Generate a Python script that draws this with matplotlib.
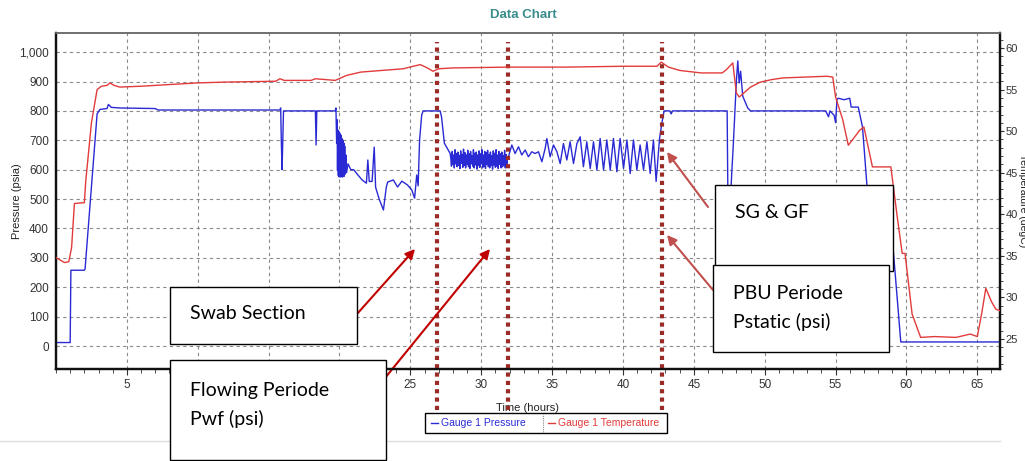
import matplotlib
matplotlib.use("Agg")
import matplotlib.pyplot as plt
from matplotlib.patches import Rectangle
from matplotlib.lines import Line2D
from matplotlib.ticker import MultipleLocator, FuncFormatter

# ---- data ----
# Gauge 1 pressure (psia) vs time (hours): build-up, swab and first flow
p_time_a = [0.0, 1.0, 1.05, 2.0, 2.05, 2.9, 3.1, 3.6, 3.7, 3.9, 4.5, 7.0, 7.2, 15.8,
            15.85, 15.9, 15.95, 16.0, 16.05, 18.3, 18.35, 18.4, 19.7, 19.75,
            19.8, 19.83, 19.86, 19.89, 19.92, 19.95, 19.98, 20.01, 20.04, 20.07,
            20.1, 20.13, 20.16, 20.19, 20.22, 20.25, 20.28, 20.31, 20.34, 20.37,
            20.4, 20.45, 20.5, 20.6,
            20.8, 21.0, 21.3, 21.6, 21.9, 22.0, 22.1, 22.3, 22.45, 22.55, 22.8,
            23.1, 23.3, 23.4, 23.8, 24.1, 24.4, 24.8, 25.1, 25.3, 25.45, 25.55,
            25.65, 25.8, 25.9, 27.1, 27.2, 27.4, 27.8]
p_psia_a = [12, 12, 258, 258, 262, 790, 805, 808, 822, 812, 810, 808, 803, 803,
            810, 690, 600, 700, 800, 800, 684, 800, 800, 810,
            690, 770, 600, 735, 580, 730, 575, 725, 580, 720,
            575, 715, 580, 705, 575, 700, 580, 690, 578, 680,
            585, 650, 590, 620,
            600, 600, 582, 565, 554, 633, 560, 560, 677, 540, 500,
            463, 540, 558, 565, 541, 561, 548, 531, 503, 582, 545,
            700, 786, 800, 800, 780, 690, 656]

# noisy flowing section (27.85 - 31.85 h)
noise_time = [27.85, 27.90, 27.95, 28.00, 28.05, 28.10, 28.15, 28.20, 28.25, 28.30,
              28.35, 28.40, 28.45, 28.50, 28.55, 28.60, 28.65, 28.70, 28.75, 28.80,
              28.85, 28.90, 28.95, 29.00, 29.05, 29.10, 29.15, 29.20, 29.25, 29.30,
              29.35, 29.40, 29.45, 29.50, 29.55, 29.60, 29.65, 29.70, 29.75, 29.80,
              29.85, 29.90, 29.95, 30.00, 30.05, 30.10, 30.15, 30.20, 30.25, 30.30,
              30.35, 30.40, 30.45, 30.50, 30.55, 30.60, 30.65, 30.70, 30.75, 30.80,
              30.85, 30.90, 30.95, 31.00, 31.05, 31.10, 31.15, 31.20, 31.25, 31.30,
              31.35, 31.40, 31.45, 31.50, 31.55, 31.60, 31.65, 31.70, 31.75, 31.80,
              31.85]
noise_psia = [640, 612, 662, 618, 650, 606, 668, 620, 655, 610,
              660, 615, 648, 604, 664, 622, 652, 608, 670, 614,
              658, 606, 650, 618, 666, 610, 654, 604, 662, 620,
              648, 612, 668, 606, 656, 616, 660, 602, 650, 614,
              664, 608, 654, 620, 668, 606, 650, 612, 662, 604,
              658, 618, 666, 610, 652, 606, 660, 614, 648, 602,
              664, 616, 656, 608, 668, 612, 650, 604, 662, 618,
              654, 606, 660, 610, 648, 614, 666, 606, 652, 612,
              640]

# second flow oscillations, PBU and the pull out of hole
p_time_b = [31.92, 32.16, 32.39, 32.63, 32.86, 33.10, 33.33, 33.57, 33.80, 34.04,
            34.28, 34.51, 34.63, 34.86, 35.10, 35.34, 35.57, 35.80, 36.04, 36.27,
            36.51, 36.75, 36.98, 37.21, 37.45, 37.69, 37.92, 38.16, 38.39, 38.63,
            38.86, 39.10, 39.33, 39.57, 39.80, 40.04, 40.28, 40.51, 40.74, 40.98,
            41.21, 41.45, 41.69, 41.92, 42.15, 42.34, 42.58, 42.75, 42.9,
            43.3, 43.4, 43.5, 47.35, 47.4, 47.6, 47.8, 48.0, 48.1, 48.2, 48.3,
            48.45, 48.8, 49.0, 54.3, 54.4, 54.5, 54.6, 54.9, 55.0, 55.1, 55.2,
            55.6, 56.0, 56.1, 56.6, 56.9, 57.45, 57.6, 59.0, 59.6, 66.6]
p_psia_b = [644, 684, 655, 678, 650, 667, 644, 661, 655, 661,
            627, 672, 706, 644, 684, 661, 621, 689, 633, 695,
            621, 689, 712, 610, 695, 604, 695, 599, 706, 599,
            701, 599, 706, 593, 706, 604, 701, 587, 701, 599,
            684, 599, 695, 587, 701, 560, 706, 760, 800,
            800, 790, 800, 800, 520, 520, 700, 900, 970, 895, 935,
            850, 810, 800, 800, 790, 780, 800, 785, 760, 840, 843,
            838, 843, 813, 813, 745, 395, 367, 367, 14, 14]

# Gauge 1 temperature (degC) vs time (hours)
t_time = [0.0, 0.3, 0.6, 0.9, 1.1, 1.3, 2.0, 2.1, 2.5, 2.9, 3.2, 3.6, 3.8, 4.1,
          4.5, 6.0, 7.0, 8.0, 10.0, 12.0, 15.5, 15.8, 16.1, 18.0, 18.3, 19.7,
          20.5, 21.5, 23.0, 24.5, 25.2, 25.7, 26.2, 26.6, 27.0, 28.0, 32.0,
          36.0, 40.0, 42.4, 42.7, 43.2, 44.0, 45.5, 47.0, 47.3, 47.75, 48.0,
          48.2, 49.0, 49.7, 50.5, 51.3, 54.4, 54.8, 55.0, 55.5, 55.9, 56.7,
          57.0, 57.6, 58.9, 59.35, 59.7, 59.9, 60.4, 61.0, 62.0, 63.5, 64.5,
          65.0, 65.3, 65.6, 66.0, 66.3, 66.6]
t_degc = [34.8, 34.5, 34.2, 34.3, 36.0, 41.3, 41.4, 44.0, 51.0, 55.0, 55.4,
          55.5, 55.8, 55.5, 55.3, 55.4, 55.5, 55.6, 55.8, 55.9, 56.0, 56.3,
          56.1, 56.1, 56.3, 56.1, 56.7, 57.1, 57.3, 57.5, 57.8, 58.0, 57.6,
          57.2, 57.5, 57.6, 57.7, 57.7, 57.8, 57.8, 58.3, 57.7, 57.3, 57.0,
          57.0, 57.4, 58.2, 54.6, 54.1, 55.3, 55.9, 56.2, 56.4, 56.6, 56.5,
          54.1, 51.4, 48.3, 50.1, 50.5, 45.7, 45.7, 39.7, 35.3, 35.3, 28.0,
          25.2, 25.3, 25.2, 25.6, 25.3, 28.0, 31.1, 29.5, 28.6, 28.4]

x_ticks = [5, 10, 15, 20, 25, 30, 35, 40, 45, 50, 55, 60, 65]
# 10, 15 and 20 sit behind the "Flowing Periode" box in the original
x_tick_labels = ["5", "", "", "", "25", "30", "35", "40", "45", "50", "55", "60", "65"]
marker_times = [26.9, 31.9, 42.77]

p_time = p_time_a + noise_time + p_time_b
p_psia = p_psia_a + noise_psia + p_psia_b

W, H = 1025, 461
BLUE = "#2a2ad4"
RED = "#e23b3b"
TICK_FONT = ["Liberation Sans", "DejaVu Sans"]
BOX_FONT = ["Lato", "DejaVu Sans"]

fig = plt.figure(figsize=(W / 100, H / 100), dpi=100)
ax = fig.add_axes([56 / W, 1 - 369 / H, 944 / W, 336 / H])
ax2 = ax.twinx()

ax.plot(p_time, p_psia, color=BLUE, lw=1.0, zorder=3)
ax2.plot(t_time, t_degc, color=RED, lw=1.0, zorder=3)

ax.set_xlim(0, 66.6)
ax.set_ylim(-78, 1065)
ax2.set_ylim(21.4, 61.8)

ax.set_xticks(x_ticks)
ax.set_xticklabels(x_tick_labels)
ax.xaxis.set_minor_locator(MultipleLocator(1))
ax.set_yticks(range(0, 1001, 100))
ax.yaxis.set_major_formatter(FuncFormatter(lambda v, p: f"{int(v):,}"))
ax2.set_yticks(range(25, 61, 5))
ax2.yaxis.set_minor_locator(MultipleLocator(1))

ax.grid(True, color="#8a8a8a", linestyle=(0, (3, 3)), linewidth=0.8)
ax.set_axisbelow(True)

for a in (ax, ax2):
    for side in ("left", "right", "bottom"):
        a.spines[side].set_linewidth(1.6)
        a.spines[side].set_color("#111111")
    a.spines["top"].set_color("#707070")
    a.spines["top"].set_linewidth(1.2)

ax.tick_params(axis="both", which="major", direction="out", length=4,
               color="#333333", labelcolor="#333333", labelsize=8.5, pad=3)
ax.tick_params(axis="x", which="minor", direction="out", length=3, color="#333333")
ax.tick_params(axis="y", which="major", length=0, pad=5)
ax2.tick_params(axis="y", which="major", direction="out", length=3,
                color="#333333", labelcolor="#333333", labelsize=8, pad=1)
ax2.tick_params(axis="y", which="minor", direction="out", length=2, color="#333333")
for lbl in ax.get_xticklabels() + ax.get_yticklabels() + ax2.get_yticklabels():
    lbl.set_family(TICK_FONT)

ax.set_xlabel("Time (hours)", fontsize=8, color="#222222", family=TICK_FONT)
ax.xaxis.set_label_coords(0.5, -0.10)
ax.set_ylabel("Pressure (psia)", fontsize=8, color="#222222", family=TICK_FONT)
ax.yaxis.set_label_coords(-0.0355, 0.5)
ax2.set_ylabel("Temperature (degC)", fontsize=7.5, color="#222222", family=TICK_FONT,
               rotation=270, va="center")
ax2.yaxis.set_label_coords(1.0245, 0.5)

fig.text(523 / W, 1 - 15 / H, "Data Chart", ha="center", va="center",
         fontsize=9.5, color="#3a8c8c", fontweight="bold", family=TICK_FONT)

# dotted period markers
for t in marker_times:
    ax.axvline(t, ymin=-0.122, ymax=0.973, color="#9a2b26", lw=3,
               linestyle=(0, (1, 1)), clip_on=False, zorder=5)

# separator line under chart
fig.add_artist(Line2D([0, 1000 / W], [1 - 441 / H, 1 - 441 / H], color="#dddddd", lw=1))

# legend
fig.add_artist(Rectangle((425 / W, 1 - 433 / H), 242 / W, 20 / H, facecolor="white",
                         edgecolor="black", lw=1, transform=fig.transFigure, zorder=6))
fig.add_artist(Line2D([543 / W, 543 / W], [1 - 432 / H, 1 - 414 / H], color="#888888",
                      lw=0.8, linestyle=(0, (1, 1)), zorder=7))
fig.add_artist(Line2D([431 / W, 438 / W], [1 - 423 / H, 1 - 423 / H], color=BLUE, lw=1, zorder=7))
fig.add_artist(Line2D([548 / W, 555 / W], [1 - 423 / H, 1 - 423 / H], color=RED, lw=1, zorder=7))
fig.text(441 / W, 1 - 423 / H, "Gauge 1 Pressure", ha="left", va="center", fontsize=7.5,
         color=BLUE, family=TICK_FONT, zorder=7)
fig.text(558 / W, 1 - 423 / H, "Gauge 1 Temperature", ha="left", va="center", fontsize=7.5,
         color=RED, family=TICK_FONT, zorder=7)


# annotation boxes (pixel positions from the top-left corner)
def box(x0, y0, x1, y1, text, tx, ty):
    fig.add_artist(Rectangle((x0 / W, 1 - y1 / H), (x1 - x0) / W, (y1 - y0) / H,
                             facecolor="white", edgecolor="black", lw=1,
                             transform=fig.transFigure, zorder=8))
    fig.text(tx / W, 1 - ty / H, text, ha="left", va="center", fontsize=14,
             family=BOX_FONT, color="black", linespacing=1.75, zorder=9)


def arrow(x0, y0, x1, y1, color):
    ax.annotate("", xy=(x1 / W, 1 - y1 / H), xytext=(x0 / W, 1 - y0 / H),
                xycoords="figure fraction", textcoords="figure fraction",
                arrowprops=dict(arrowstyle="-|>", color=color, lw=1.5,
                                mutation_scale=14, shrinkA=0, shrinkB=0),
                annotation_clip=False, zorder=10)


box(170, 287, 357, 344, "Swab Section", 190, 313)
box(170, 360, 386, 460, "Flowing Periode\nPwf (psi)", 190, 405)
box(715, 185, 893, 271, "SG & GF", 735, 212)
box(713, 265, 889, 352, "PBU Periode\nPstatic (psi)", 733, 308)

arrow(357, 314, 415, 249, "#c00000")
arrow(385, 378, 490, 249, "#c00000")
arrow(708, 207, 667, 152, "#c0504d")
arrow(713, 290, 667, 235, "#c0504d")

fig.savefig("out.png", dpi=100)
